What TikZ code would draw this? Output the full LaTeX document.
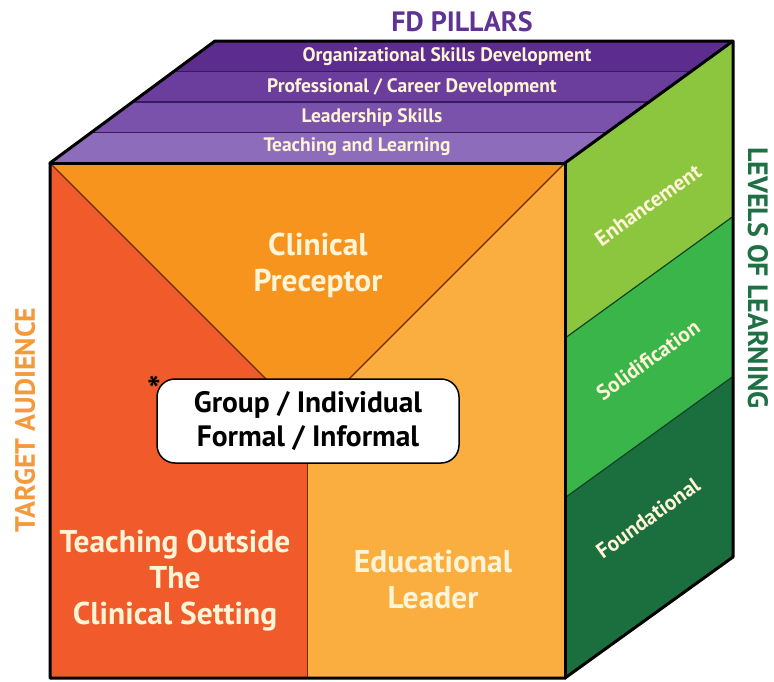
\documentclass[tikz,border=0pt]{standalone}
\usepackage{fontspec}
\setmainfont{PT Sans}
\usetikzlibrary{calc, positioning}

\definecolor{pillarA}{HTML}{5C2D8E}
\definecolor{pillarB}{HTML}{6B3D9C}
\definecolor{pillarC}{HTML}{7B52AB}
\definecolor{pillarD}{HTML}{8D6DBB}
\definecolor{pillarline}{HTML}{3A1A5E}
\definecolor{levelA}{HTML}{8CC63F}
\definecolor{levelB}{HTML}{3AB54A}
\definecolor{levelC}{HTML}{1B6F3E}
\definecolor{leftface}{HTML}{F15A2B}
\definecolor{topface}{HTML}{F7941E}
\definecolor{rightface}{HTML}{FBAE40}
\definecolor{faceline}{HTML}{6B2A0E}
\definecolor{cream}{HTML}{FFF4D6}
\definecolor{pillartitle}{HTML}{5F3392}
\definecolor{leveltitle}{HTML}{1E7045}
\definecolor{audtitle}{HTML}{F39A3C}

\begin{document}
\begin{tikzpicture}[
		x=1pt, y=-1pt,
		bandtext/.style={text=cream, inner sep=0pt, font=\fontsize{19.5}{22}\selectfont\bfseries},
		facetext/.style={text=cream, align=center, font=\fontsize{31.5}{36}\selectfont\bfseries},
		sidetext/.style={text=cream, rotate=35.5, font=\fontsize{21.5}{24}\selectfont\bfseries},
		axistitle/.style={font=\fontsize{28}{32}\selectfont\bfseries},
		modebox/.style={draw, fill=white, line width=1.5pt, rounded corners=18pt, minimum width=302pt, minimum height=84pt, align=center, font=\fontsize{29.5}{34}\selectfont\bfseries},
		divider/.style={draw=faceline, line width=1.2pt},
		edge/.style={line width=3pt, line join=round, line cap=round}
	]
	\useasboundingbox (0,0) rectangle (774,681);

	% corners of the cube
	\coordinate (ftl) at (50,163);
	\coordinate (ftr) at (565,163);
	\coordinate (fbr) at (565,678);
	\coordinate (fbl) at (50,678);
	\coordinate (btl) at (215,41);
	\coordinate (btr) at (733,41);
	\coordinate (bbr) at (733,557);
	\coordinate (vmeet) at (307.5,420.5);
	\coordinate (vfoot) at (307.5,678);

	% top face: pillars
	\foreach \lo/\hi/\col in {0/0.25/pillarA, 0.25/0.5/pillarB, 0.5/0.75/pillarC, 0.75/1/pillarD}
		\fill[\col] ($(btl)!\lo!(ftl)$) -- ($(btr)!\lo!(ftr)$) -- ($(btr)!\hi!(ftr)$) -- ($(btl)!\hi!(ftl)$) -- cycle;
	\foreach \f in {0.25,0.5,0.75}
		\draw[draw=pillarline, line width=1.5pt] ($(btl)!\f!(ftl)$) -- ($(btr)!\f!(ftr)$);

	% right face: levels
	\foreach \lo/\hi/\col in {0/0.34/levelA, 0.34/0.65/levelB, 0.65/1/levelC}
		\fill[\col] ($(ftr)!\lo!(fbr)$) -- ($(btr)!\lo!(bbr)$) -- ($(btr)!\hi!(bbr)$) -- ($(ftr)!\hi!(fbr)$) -- cycle;
	\foreach \f in {0.34,0.65}
		\draw[draw=levelC!60!black, line width=1.2pt] ($(ftr)!\f!(fbr)$) -- ($(btr)!\f!(bbr)$);

	% front face: audience
	\fill[leftface] (ftl) -- (vmeet) -- (vfoot) -- (fbl) -- cycle;
	\fill[topface] (ftl) -- (ftr) -- (vmeet) -- cycle;
	\fill[rightface] (ftr) -- (fbr) -- (vfoot) -- (vmeet) -- cycle;
	\draw[divider] (ftl) -- (vmeet) -- (ftr);
	\draw[divider] (vmeet) -- (vfoot);

	% outline
	\draw[edge] (fbl) -- (ftl) -- (btl) -- (btr) -- (bbr) -- (fbr) -- cycle;
	\draw[edge] (ftl) -- (ftr) -- (fbr);
	\draw[edge] (ftr) -- (btr);

	\node[bandtext] (orgskills) at (447,57) {Organizational Skills Development};
	\node[bandtext] (career) at (412,87) {Professional / Career Development};
	\node[bandtext] (leadership) at (372,117) {Leadership Skills};
	\node[bandtext] (teaching) at (357,147) {Teaching and Learning};

	\node[sidetext] (enhance) at (648,205) {Enhancement};
	\node[sidetext] (solid) at (648,360) {Solidification};
	\node[sidetext] (found) at (648,518) {Foundational};

	\node[facetext] (preceptor) at (318,265) {Clinical\\Preceptor};
	\node[facetext] (outside) at (175,581) {Teaching Outside\\The\\Clinical Setting};
	\node[facetext] (leader) at (433,580) {Educational\\Leader};

	\node[modebox] (mode) at (308,421) {Group / Individual\\Formal / Informal};
	\node[font=\fontsize{36}{36}\selectfont\bfseries] (star) at (154,389) {*};

	\node[axistitle, text=pillartitle] (pillars) at (462,22) {FD PILLARS};
	\node[axistitle, text=leveltitle, rotate=-90] (levels) at (758,278) {LEVELS OF LEARNING};
	\node[axistitle, text=audtitle, rotate=90] (audience) at (25,420) {TARGET AUDIENCE};
\end{tikzpicture}
\end{document}
